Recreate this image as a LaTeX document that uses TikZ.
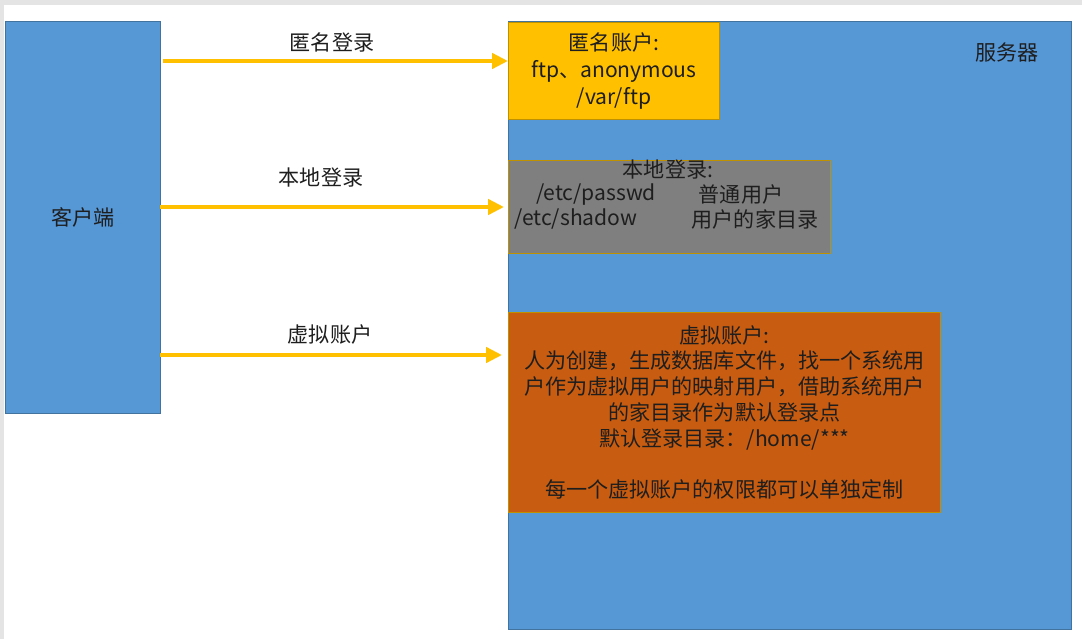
\documentclass[tikz,border=0pt]{standalone}
\usepackage{fontspec}
\setmainfont{Noto Sans CJK SC}
\usetikzlibrary{arrows.meta}

\definecolor{boxblue}{RGB}{86,151,214}
\definecolor{boxblueedge}{RGB}{66,114,158}
\definecolor{gold}{RGB}{255,192,0}
\definecolor{goldedge}{RGB}{191,144,0}
\definecolor{midgrey}{RGB}{127,127,127}
\definecolor{rust}{RGB}{200,92,16}
\definecolor{framegrey}{RGB}{228,228,228}
\definecolor{ink}{RGB}{30,30,30}

\tikzset{
  panel/.style={draw=boxblueedge, line width=0.6pt, fill=boxblue, anchor=north west,
    inner sep=0pt, text=ink},
  infobox/.style={draw=goldedge, line width=0.6pt, anchor=north west, inner sep=0pt,
    text=ink, align=center},
  label/.style={text=ink, inner sep=0pt},
  flow/.style={draw=gold, line width=2.3pt, -{Triangle[length=9pt, width=8.5pt]}},
}

\begin{document}
\begin{tikzpicture}[x=0.02cm, y=-0.02cm, font=\fontsize{12}{14.7}\selectfont]
  % frame of the page
  \fill[framegrey] (0,0) rectangle (1082,639);
  \fill[white] (4,5) rectangle (1082,639);
  \useasboundingbox (0,0) rectangle (1082,639);

  % client and server
  \node[panel, minimum width=3.1cm, minimum height=7.84cm] (client) at (5,21) {客户端};
  \node[panel, minimum width=11.26cm, minimum height=12.16cm] (server) at (508,21) {};
  \node[label] (serverlbl) at (1007,52) {服务器};

  % anonymous account
  \node[infobox, fill=gold, minimum width=4.22cm, minimum height=1.94cm,
        font=\fontsize{12}{15.2}\selectfont] (anon) at (508,22)
        {匿名账户:\\ftp、anonymous\\/var/ftp};

  % local account
  \node[infobox, fill=midgrey, minimum width=6.44cm, minimum height=1.86cm] (local) at (508,160) {};
  \node[label] (localhdr) at (668,170) {本地登录:};
  \node[label] (passwd) at (596,195) {/etc/passwd};
  \node[label] (shadow) at (576,219) {/etc/shadow};
  \node[label] (normal) at (741,194) {普通用户};
  \node[label] (home) at (755,219) {用户的家目录};

  % virtual account
  \node[infobox, fill=rust, minimum width=8.64cm, minimum height=4.0cm] (virt) at (508,312)
        {虚拟账户:\\人为创建，生成数据库文件，找一个系统用\\户作为虚拟用户的映射用户，借助系统用户\\的家目录作为默认登录点\\默认登录目录：/home/***\\[14.7pt]每一个虚拟账户的权限都可以单独定制};

  % login paths
  \coordinate (a1) at (163,61);
  \coordinate (a2) at (160,207);
  \coordinate (a3) at (160,355);
  \draw[flow] (a1) -- (anon.west |- a1);
  \draw[flow] (a2) -- ([xshift=-0.08cm]local.west |- a2);
  \draw[flow] (a3) -- ([xshift=-0.12cm]virt.west |- a3);

  \node[label] (l1) at (332,42) {匿名登录};
  \node[label] (l2) at (321,178) {本地登录};
  \node[label] (l3) at (330,334) {虚拟账户};
\end{tikzpicture}
\end{document}
